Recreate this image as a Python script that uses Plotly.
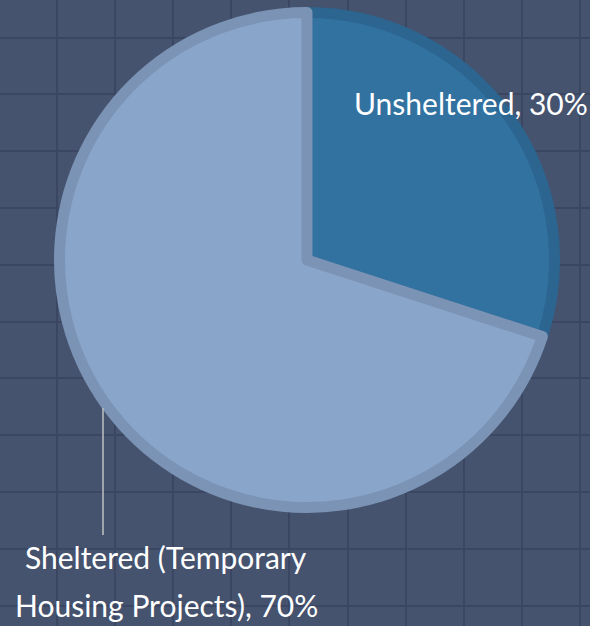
import plotly.graph_objects as go

# Data
labels = ["Unsheltered", "Sheltered (Temporary Housing Projects)"]
label_lines = [["Unsheltered, 30%"],
               ["Sheltered (Temporary", "Housing Projects), 70%"]]
values = [30, 70]
fill_colors = ["#3272a1", "#89a5ca"]
border_colors = ["#2c6590", "#7b93b4"]

W, H = 590, 626
BG = "#45536f"
GRID = "#3a4662"
FONT = "Lato"

fig = go.Figure()

# invisible cartesian layer used only for the background grid
fig.add_trace(go.Scatter(x=[], y=[], hoverinfo="skip", showlegend=False))

# pie: centre ~(307, 260) px, path radius ~247 px
cx, cy, r = 307, 260, 247.5
fig.add_trace(go.Pie(
    labels=labels,
    values=values,
    sort=False,
    direction="clockwise",
    rotation=0,
    textinfo="none",
    hoverinfo="label+percent",
    marker=dict(colors=fill_colors, line=dict(color=border_colors, width=11)),
    domain=dict(x=[(cx - r) / W, (cx + r) / W],
                y=[(H - cy - r) / H, (H - cy + r) / H]),
    showlegend=False,
))

# data labels (x centre, y of each line in px)
label_pos = [(471, [103]), (166, [557, 605])]
for lines, (lx, ys) in zip(label_lines, label_pos):
    for line, ly in zip(lines, ys):
        fig.add_annotation(x=lx / W, y=1 - ly / H, xref="paper", yref="paper",
                           xanchor="center", yanchor="middle",
                           text=line, showarrow=False,
                           font=dict(family=FONT, size=30, color="white"))

# connector for the sheltered label
fig.add_shape(type="line", xref="paper", yref="paper",
              x0=103 / W, x1=103 / W, y0=1 - 408 / H, y1=1 - 535 / H,
              line=dict(color="#c0c0c0", width=1.5))

fig.update_xaxes(range=[0, W], showgrid=True, gridcolor=GRID, gridwidth=1.5,
                 tick0=56.5, dtick=58.2, showticklabels=False,
                 zeroline=False, showline=False, ticks="", fixedrange=True)
fig.update_yaxes(range=[H, 0], showgrid=True, gridcolor=GRID, gridwidth=1.5,
                 tick0=37.5, dtick=56.8, showticklabels=False,
                 zeroline=False, showline=False, ticks="", fixedrange=True)

fig.update_layout(
    width=W, height=H,
    margin=dict(l=0, r=0, t=0, b=0),
    paper_bgcolor=BG,
    plot_bgcolor=BG,
    font=dict(family=FONT, color="white"),
)

fig.write_html("out.html",
               config={"displayModeBar": False},
               post_script="document.body.style.margin='0';"
                           "document.body.style.background='%s';" % BG)
